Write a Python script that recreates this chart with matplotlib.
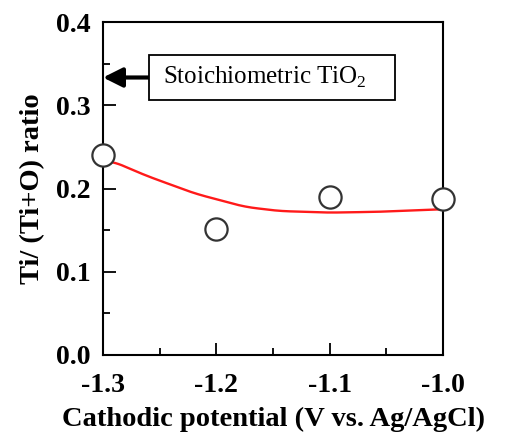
import numpy as np
import matplotlib
matplotlib.use("Agg")
from matplotlib import pyplot as plt
from matplotlib.ticker import MultipleLocator
from matplotlib.patches import Rectangle

plt.rcParams['font.family'] = ['Liberation Serif', 'DejaVu Serif']
plt.rcParams['mathtext.fontset'] = 'custom'
plt.rcParams['mathtext.rm'] = 'Liberation Serif'

# measured points
potential = [-1.3, -1.2, -1.1, -1.0]
ratio = [0.240, 0.151, 0.190, 0.187]

# red guide curve
curve_x = [-1.292, -1.263, -1.219, -1.175, -1.145, -1.101, -1.057, -1.004]
curve_y = [0.233, 0.216, 0.194, 0.178, 0.173, 0.171, 0.172, 0.175]

stoich = 1 / 3  # Ti/(Ti+O) for TiO2

fig = plt.figure(figsize=(5.05, 4.32), dpi=100)
ax = fig.add_axes([103 / 505, 1 - 355 / 432, 340 / 505, 333 / 432])

# light smoothing of the guide curve
cx = np.linspace(curve_x[0], curve_x[-1], 300)
cy = np.interp(cx, curve_x, curve_y)
k = np.ones(21) / 21
cy_s = np.convolve(np.pad(cy, 10, mode='edge'), k, mode='valid')
ax.plot(cx, cy_s, color='#ff1a1a', lw=1.7, zorder=2)

ax.plot(potential, ratio, 'o', ms=16, mfc='white', mec='#333333', mew=1.6,
        clip_on=False, zorder=3)

ax.set_xlim(-1.3, -1.0)
ax.set_ylim(0.0, 0.4)
ax.xaxis.set_minor_locator(MultipleLocator(0.05))
ax.yaxis.set_minor_locator(MultipleLocator(0.05))
ax.set_xticks([-1.3, -1.2, -1.1, -1.0])
ax.set_xticklabels(['-1.3', '-1.2', '-1.1', '-1.0'])
ax.set_yticks([0.0, 0.1, 0.2, 0.3, 0.4])
ax.set_yticklabels(['0.0', '0.1', '0.2', '0.3', '0.4'])

ax.tick_params(which='both', direction='in', top=False, right=False, width=1.3)
ax.tick_params(which='major', length=9, labelsize=20)
ax.tick_params(axis='x', which='major', pad=13)
ax.tick_params(axis='y', which='major', pad=9)
ax.tick_params(which='minor', length=5)
for lab in ax.get_xticklabels() + ax.get_yticklabels():
    lab.set_fontweight('bold')
for s in ax.spines.values():
    s.set_linewidth(1.5)

ax.set_xlabel('Cathodic potential (V vs. Ag/AgCl)', fontsize=20.5,
              fontweight='bold', labelpad=6)
ax.set_ylabel('Ti/ (Ti+O) ratio', fontsize=20.5, fontweight='bold', labelpad=8)

ax.annotate('', xy=(-1.3, stoich), xytext=(-1.2594, stoich),
            arrowprops=dict(arrowstyle='-|>,head_length=0.9,head_width=0.45',
                            color='black', lw=3,
                            mutation_scale=13, shrinkA=0, shrinkB=0))
ax.add_patch(Rectangle((-1.2594, 0.3063), 0.2171, 0.0541, fc='white',
                       ec='black', lw=1.3, zorder=4))
ax.text(-1.2470, stoich, r'Stoichiometric TiO$_2$', fontsize=18,
        va='center', ha='left', zorder=5)

fig.savefig('out.png', dpi=100)
